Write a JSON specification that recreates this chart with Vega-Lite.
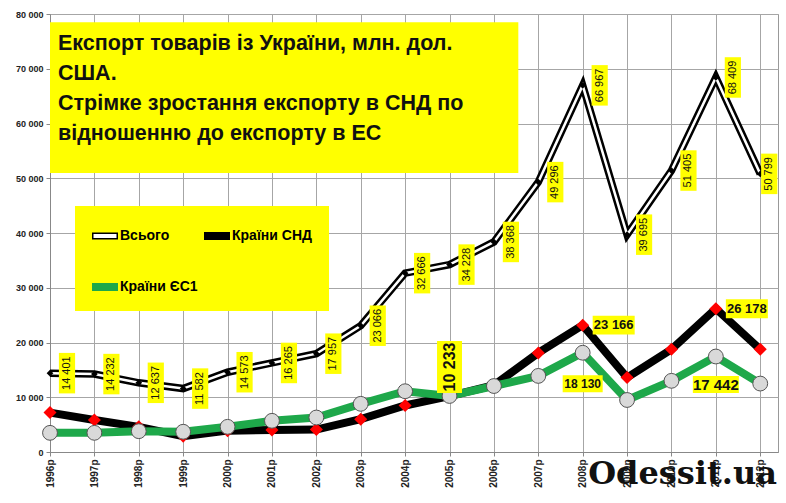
{
  "$schema": "https://vega.github.io/schema/vega-lite/v6.json",
  "width": 728,
  "height": 438,
  "autosize": "none",
  "padding": {"left": 50, "top": 14, "right": 8, "bottom": 51},
  "background": "white",
  "config": {
    "font": "Liberation Sans",
    "locale": {"number": {"decimal": ",", "thousands": " ", "grouping": [3], "currency": ["", ""]}},
    "view": {"stroke": "#999"},
    "axis": {"gridColor": "#a6a6a6", "domainColor": "#888", "tickColor": "#888", "labelFont": "Liberation Sans", "labelColor": "#222", "labelFontWeight": "bold", "tickSize": 4, "labelPadding": 3, "title": null},
    "legend": {
      "orient": "none", "legendX": 25, "legendY": 192, "fillColor": "#ffff00", "padding": 17,
      "columns": 2, "rowPadding": 31, "columnPadding": 3, "labelFontSize": 14, "labelFontWeight": "bold",
      "labelFont": "Liberation Sans", "labelColor": "black", "symbolSize": 600, "symbolStrokeWidth": 1.5,
      "symbolOpacity": 1, "labelOffset": 2, "title": null
    }
  },
  "data": {
    "values": [
      {"year": 1996, "series": "Всього", "value": 14401},
      {"year": 1997, "series": "Всього", "value": 14232},
      {"year": 1998, "series": "Всього", "value": 12637},
      {"year": 1999, "series": "Всього", "value": 11582},
      {"year": 2000, "series": "Всього", "value": 14573},
      {"year": 2001, "series": "Всього", "value": 16265},
      {"year": 2002, "series": "Всього", "value": 17957},
      {"year": 2003, "series": "Всього", "value": 23066},
      {"year": 2004, "series": "Всього", "value": 32666},
      {"year": 2005, "series": "Всього", "value": 34228},
      {"year": 2006, "series": "Всього", "value": 38368},
      {"year": 2007, "series": "Всього", "value": 49296},
      {"year": 2008, "series": "Всього", "value": 66967},
      {"year": 2009, "series": "Всього", "value": 39695},
      {"year": 2010, "series": "Всього", "value": 51405},
      {"year": 2011, "series": "Всього", "value": 68409},
      {"year": 2012, "series": "Всього", "value": 50799},
      {"year": 1996, "series": "Країни СНД", "value": 7200},
      {"year": 1997, "series": "Країни СНД", "value": 5850},
      {"year": 1998, "series": "Країни СНД", "value": 4600},
      {"year": 1999, "series": "Країни СНД", "value": 2900},
      {"year": 2000, "series": "Країни СНД", "value": 3900},
      {"year": 2001, "series": "Країни СНД", "value": 4000},
      {"year": 2002, "series": "Країни СНД", "value": 4100},
      {"year": 2003, "series": "Країни СНД", "value": 6000},
      {"year": 2004, "series": "Країни СНД", "value": 8500},
      {"year": 2005, "series": "Країни СНД", "value": 10200},
      {"year": 2006, "series": "Країни СНД", "value": 12200},
      {"year": 2007, "series": "Країни СНД", "value": 18100},
      {"year": 2008, "series": "Країни СНД", "value": 23166},
      {"year": 2009, "series": "Країни СНД", "value": 13600},
      {"year": 2010, "series": "Країни СНД", "value": 18750},
      {"year": 2011, "series": "Країни СНД", "value": 26178},
      {"year": 2012, "series": "Країни СНД", "value": 18750},
      {"year": 1996, "series": "Країни ЄС1", "value": 3500},
      {"year": 1997, "series": "Країни ЄС1", "value": 3500},
      {"year": 1998, "series": "Країни ЄС1", "value": 3800},
      {"year": 1999, "series": "Країни ЄС1", "value": 3700},
      {"year": 2000, "series": "Країни ЄС1", "value": 4600},
      {"year": 2001, "series": "Країни ЄС1", "value": 5700},
      {"year": 2002, "series": "Країни ЄС1", "value": 6300},
      {"year": 2003, "series": "Країни ЄС1", "value": 8800},
      {"year": 2004, "series": "Країни ЄС1", "value": 11100},
      {"year": 2005, "series": "Країни ЄС1", "value": 10233},
      {"year": 2006, "series": "Країни ЄС1", "value": 12050},
      {"year": 2007, "series": "Країни ЄС1", "value": 13900},
      {"year": 2008, "series": "Країни ЄС1", "value": 18130},
      {"year": 2009, "series": "Країни ЄС1", "value": 9500},
      {"year": 2010, "series": "Країни ЄС1", "value": 13000},
      {"year": 2011, "series": "Країни ЄС1", "value": 17442},
      {"year": 2012, "series": "Країни ЄС1", "value": 12500}
    ]
  },
  "encoding": {
    "x": {
      "field": "year", "type": "quantitative",
      "scale": {"domain": [1996, 2012.4], "nice": false, "zero": false},
      "axis": {"values": [1996, 1997, 1998, 1999, 2000, 2001, 2002, 2003, 2004, 2005, 2006, 2007, 2008, 2009, 2010, 2011, 2012],
               "labelExpr": "datum.value + 'р'", "labelAngle": -90, "labelFontSize": 10}
    },
    "y": {
      "field": "value", "type": "quantitative",
      "scale": {"domain": [0, 80000], "nice": false},
      "axis": {"values": [0, 10000, 20000, 30000, 40000, 50000, 60000, 70000, 80000], "format": ",d", "labelFontSize": 9}
    }
  },
  "layer": [
    {
      "transform": [{"filter": "datum.year == 1996 && datum.series == 'Всього'"}],
      "mark": {"type": "rect", "fill": "#ffff00"},
      "encoding": {
        "x": {"datum": 1996, "type": "quantitative"}, "x2": {"datum": 2006.55},
        "y": {"datum": 78500, "type": "quantitative"}, "y2": {"datum": 50960}
      }
    },
    {
      "transform": [{"filter": "datum.year == 1996 && datum.series == 'Всього'"}],
      "mark": {"type": "text", "align": "left", "baseline": "alphabetic", "fontSize": 21.5, "fontWeight": "bold",
               "lineHeight": 30, "color": "#111",
               "text": ["Експорт товарів із України, млн. дол.", "США.", "Стрімке зростання експорту в СНД по", "відношенню до  експорту в ЕС"]},
      "encoding": {"x": {"datum": 1996.18, "type": "quantitative"}, "y": {"datum": 73400, "type": "quantitative"}}
    },
    {
      "transform": [{"filter": "datum.year < 0"}],
      "mark": {"type": "point", "filled": true, "opacity": 1},
      "encoding": {
        "shape": {"field": "series", "type": "nominal",
                  "scale": {"domain": ["Всього", "Країни ЄС1", "Країни СНД"],
                            "range": ["M-1,-0.22H1V0.22H-1Z", "M-1,-0.26H1V0.26H-1Z", "M-1,-0.26H1V0.26H-1Z"]}},
        "fill": {"field": "series", "type": "nominal",
                 "scale": {"domain": ["Всього", "Країни ЄС1", "Країни СНД"], "range": ["white", "#1ea84a", "black"]}},
        "stroke": {"field": "series", "type": "nominal",
                   "scale": {"domain": ["Всього", "Країни ЄС1", "Країни СНД"], "range": ["black", "#1ea84a", "black"]}}
      }
    },
    {
      "transform": [{"filter": "datum.series == 'Всього'"}],
      "mark": {"type": "line", "color": "black", "strokeWidth": 7.5},
      "encoding": {}
    },
    {
      "transform": [{"filter": "datum.series == 'Всього'"}],
      "mark": {"type": "line", "color": "white", "strokeWidth": 2.5},
      "encoding": {}
    },
    {
      "transform": [{"filter": "datum.series == 'Всього'"}],
      "mark": {"type": "point", "shape": "diamond", "filled": true, "color": "black", "size": 45, "opacity": 1},
      "encoding": {}
    },
    {
      "transform": [{"filter": "datum.series == 'Країни СНД'"}],
      "mark": {"type": "line", "color": "black", "strokeWidth": 8},
      "encoding": {}
    },
    {
      "transform": [{"filter": "datum.series == 'Країни СНД'"}],
      "mark": {"type": "point", "shape": "diamond", "filled": true, "color": "#ff0000", "size": 170, "opacity": 1},
      "encoding": {}
    },
    {
      "transform": [{"filter": "datum.series == 'Країни ЄС1'"}],
      "mark": {"type": "line", "color": "#1ea84a", "strokeWidth": 8},
      "encoding": {}
    },
    {
      "transform": [{"filter": "datum.series == 'Країни ЄС1'"}],
      "mark": {"type": "point", "shape": "circle", "filled": true, "fill": "#d9d9d9", "stroke": "#555", "strokeWidth": 1, "size": 220, "opacity": 1},
      "encoding": {}
    },
    {
      "transform": [{"filter": "datum.series == 'Всього' && datum.year < 2012"}],
      "mark": {"type": "point", "shape": "M-0.4,-1H0.4V1H-0.4Z", "filled": true, "fill": "#ffff00", "strokeWidth": 0, "size": 1640, "xOffset": 17, "opacity": 1},
      "encoding": {}
    },
    {
      "transform": [{"filter": "datum.series == 'Всього' && datum.year < 2012"}],
      "mark": {"type": "text", "angle": 270, "fontSize": 11, "xOffset": 17, "align": "center", "baseline": "middle", "color": "#111"},
      "encoding": {"text": {"field": "value", "type": "quantitative", "format": ",d"}}
    },
    {
      "transform": [{"filter": "datum.series == 'Всього' && datum.year == 2012"}],
      "mark": {"type": "point", "shape": "M-0.4,-1H0.4V1H-0.4Z", "filled": true, "fill": "#ffff00", "strokeWidth": 0, "size": 1640, "xOffset": 9, "opacity": 1},
      "encoding": {}
    },
    {
      "transform": [{"filter": "datum.series == 'Всього' && datum.year == 2012"}],
      "mark": {"type": "text", "angle": 270, "fontSize": 11, "xOffset": 9, "align": "center", "baseline": "middle", "color": "#111"},
      "encoding": {"text": {"field": "value", "type": "quantitative", "format": ",d"}}
    },
    {
      "transform": [{"filter": "datum.series == 'Країни СНД' && (datum.year == 2008 || datum.year == 2011)"}],
      "mark": {"type": "point", "shape": "M-1,-0.45H1V0.45H-1Z", "filled": true, "fill": "#ffff00", "strokeWidth": 0, "size": 1764, "xOffset": 31, "opacity": 1},
      "encoding": {}
    },
    {
      "transform": [{"filter": "datum.series == 'Країни СНД' && (datum.year == 2008 || datum.year == 2011)"}],
      "mark": {"type": "text", "fontSize": 13, "fontWeight": "bold", "xOffset": 31, "align": "center", "baseline": "middle", "color": "#111"},
      "encoding": {"text": {"field": "value", "type": "quantitative", "format": ",d"}}
    },
    {
      "transform": [{"filter": "datum.series == 'Країни ЄС1' && datum.year == 2008"}],
      "mark": {"type": "point", "shape": "M-1,-0.42H1V0.42H-1Z", "filled": true, "fill": "#ffff00", "strokeWidth": 0, "size": 1600, "yOffset": 31, "opacity": 1},
      "encoding": {}
    },
    {
      "transform": [{"filter": "datum.series == 'Країни ЄС1' && datum.year == 2008"}],
      "mark": {"type": "text", "fontSize": 12, "fontWeight": "bold", "yOffset": 31, "align": "center", "baseline": "middle", "color": "#111"},
      "encoding": {"text": {"field": "value", "type": "quantitative", "format": ",d"}}
    },
    {
      "transform": [{"filter": "datum.series == 'Країни ЄС1' && datum.year == 2011"}],
      "mark": {"type": "point", "shape": "M-1,-0.37H1V0.37H-1Z", "filled": true, "fill": "#ffff00", "strokeWidth": 0, "size": 2116, "yOffset": 28, "opacity": 1},
      "encoding": {}
    },
    {
      "transform": [{"filter": "datum.series == 'Країни ЄС1' && datum.year == 2011"}],
      "mark": {"type": "text", "fontSize": 15, "fontWeight": "bold", "yOffset": 28, "align": "center", "baseline": "middle", "color": "#111"},
      "encoding": {"text": {"field": "value", "type": "quantitative", "format": ",d"}}
    },
    {
      "transform": [{"filter": "datum.series == 'Країни ЄС1' && datum.year == 2005"}],
      "mark": {"type": "point", "shape": "M-0.48,-1H0.48V1H-0.48Z", "filled": true, "fill": "#ffff00", "strokeWidth": 0, "size": 2704, "yOffset": -29, "opacity": 1},
      "encoding": {}
    },
    {
      "transform": [{"filter": "datum.series == 'Країни ЄС1' && datum.year == 2005"}],
      "mark": {"type": "text", "angle": 270, "fontSize": 16, "fontWeight": "bold", "yOffset": -29, "align": "center", "baseline": "middle", "color": "#111"},
      "encoding": {"text": {"field": "value", "type": "quantitative", "format": ",d"}}
    },
    {
      "transform": [{"filter": "datum.year == 1996 && datum.series == 'Всього'"}],
      "mark": {"type": "text", "text": "Odessit.ua", "font": "DejaVu Serif", "fontWeight": "bold", "fontSize": 32, "align": "center", "baseline": "middle", "color": "#111"},
      "encoding": {"x": {"datum": 2010.25, "type": "quantitative"}, "y": {"datum": -4000, "type": "quantitative"}}
    }
  ]
}
